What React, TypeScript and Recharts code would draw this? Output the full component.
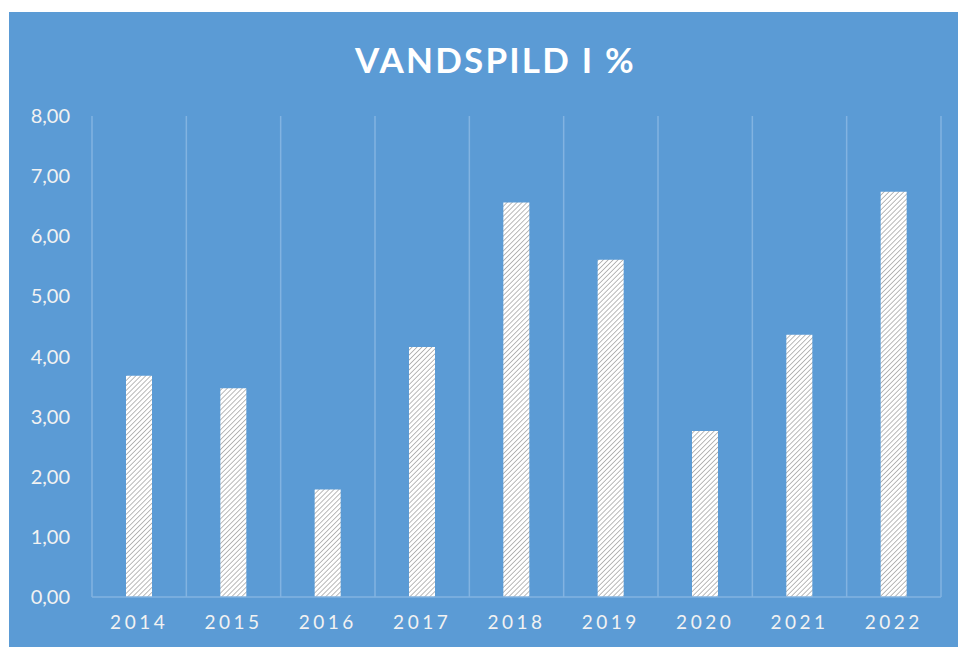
import React from "react";
import { BarChart, Bar, XAxis, YAxis, CartesianGrid } from "recharts";

const years = ["2014", "2015", "2016", "2017", "2018", "2019", "2020", "2021", "2022"];
const spild = [3.68, 3.47, 1.79, 4.16, 6.56, 5.61, 2.76, 4.36, 6.74];
const yTicks = [0, 1, 2, 3, 4, 5, 6, 7, 8];

const data = years.map((year, i) => ({ year, value: spild[i] }));

const BLUE = "#5b9bd5";
const GRID = "#82b3e1";
const TEXT = "#f2f2f2";

const fmt = (v: number) => v.toFixed(2).replace(".", ",");

const App = () => (
  <div style={{ position: "absolute", left: 0, top: 0, width: 958, height: 647, background: "#fff" }}>
    <div
      style={{
        position: "absolute",
        left: 9,
        top: 12,
        width: 949,
        height: 635,
        background: BLUE,
        fontFamily: "Lato, sans-serif",
      }}
    >
      <div
        style={{
          position: "absolute",
          left: 12,
          width: 949,
          top: 26,
          textAlign: "center",
          color: "#fff",
          fontSize: 35,
          fontWeight: 700,
          letterSpacing: 2.2,
        }}
      >
        VANDSPILD I %
      </div>
      <div style={{ position: "absolute", left: 0, top: 0 }}>
        <BarChart width={949} height={635} data={data} margin={{ top: 104, right: 17, bottom: 0, left: 0 }}>
          <defs>
            <pattern id="hatch" width="3.5" height="3.5" patternUnits="userSpaceOnUse" patternTransform="rotate(45)">
              <rect width="3.5" height="3.5" fill="#ffffff" />
              <line x1="0" y1="0" x2="0" y2="3.5" stroke="#9c9c9c" strokeWidth="1.4" />
            </pattern>
          </defs>
          <CartesianGrid
            horizontal={false}
            stroke={GRID}
            strokeWidth={1.5}
            verticalCoordinatesGenerator={({ offset }: any) =>
              Array.from({ length: years.length + 1 }, (_, i) => offset.left + (i * offset.width) / years.length)
            }
          />
          <XAxis
            dataKey="year"
            height={50}
            axisLine={{ stroke: GRID, strokeWidth: 1.5 }}
            tickLine={false}
            tickMargin={13}
            tick={{ fill: TEXT, fontSize: 19, letterSpacing: 3.5 }}
          />
          <YAxis
            width={83}
            domain={[0, 8]}
            ticks={yTicks}
            tickFormatter={fmt}
            axisLine={false}
            tickLine={false}
            tickMargin={16}
            tick={{ fill: TEXT, fontSize: 20 }}
          />
          <Bar dataKey="value" barSize={26} fill="url(#hatch)" isAnimationActive={false} />
        </BarChart>
      </div>
    </div>
  </div>
);

export default App;
